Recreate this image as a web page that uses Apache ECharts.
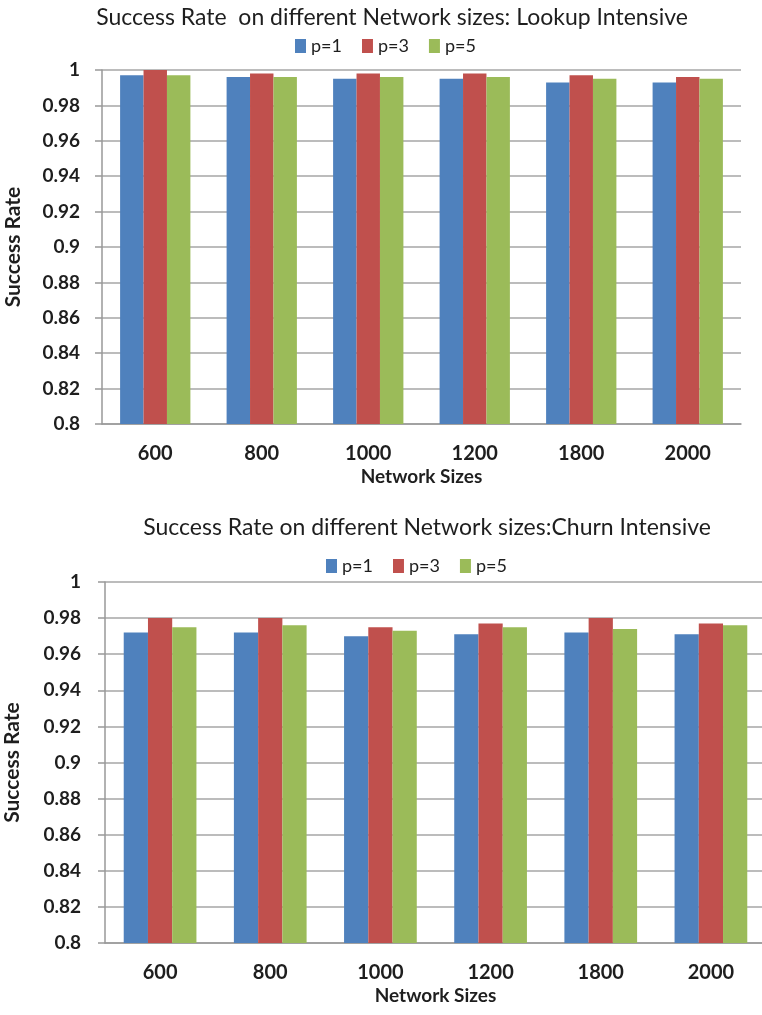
<!DOCTYPE html>
<html>
<head>
<meta charset="utf-8">
<script src="https://cdn.jsdelivr.net/npm/echarts@6/dist/echarts.min.js"></script>
<style>
  html, body { margin: 0; padding: 0; background: #fff; }
  #chart { width: 762px; height: 1015px; }
</style>
</head>
<body>
<div id="chart"></div>
<script>
// Network sizes on the x axis (shared by both panels)
const networkSizes = ['600', '800', '1000', '1200', '1800', '2000'];
const seriesNames = ['p=1', 'p=3', 'p=5'];
const seriesColors = ['#4F81BD', '#C0504D', '#9BBB59'];

// Lookup-intensive workload
const lookupP1 = [0.997, 0.996, 0.995, 0.995, 0.993, 0.993];
const lookupP3 = [1.000, 0.998, 0.998, 0.998, 0.997, 0.996];
const lookupP5 = [0.997, 0.996, 0.996, 0.996, 0.995, 0.995];

// Churn-intensive workload
const churnP1 = [0.972, 0.972, 0.970, 0.971, 0.972, 0.971];
const churnP3 = [0.980, 0.980, 0.975, 0.977, 0.980, 0.977];
const churnP5 = [0.975, 0.976, 0.973, 0.975, 0.974, 0.976];

const titleTop = 'Success Rate  on different Network sizes: Lookup Intensive';
const titleBottom = 'Success Rate on different Network sizes:Churn Intensive';
const yName = 'Success Rate';
const xName = 'Network Sizes';

const FONT = 'Lato, "Open Sans", sans-serif';
const gridGrey = '#A6A6A6';
const ink = '#1e1e1e';

function xAxis(gridIndex) {
  return {
    type: 'category', gridIndex, data: networkSizes,
    name: xName, nameLocation: 'middle', nameGap: 43,
    nameTextStyle: { fontFamily: FONT, fontWeight: 'bold', fontSize: 19, color: ink },
    axisLine: { lineStyle: { color: '#999', width: 1.5 } },
    axisTick: { length: 9, lineStyle: { color: '#999', width: 1.5 } },
    axisLabel: { fontFamily: FONT, fontWeight: 'bold', fontSize: 20, color: ink, margin: 20 }
  };
}

function yAxis(gridIndex, nameGap, labelMargin) {
  return {
    type: 'value', gridIndex, min: 0.8, max: 1, interval: 0.02,
    name: yName, nameLocation: 'middle', nameGap, nameRotate: 90,
    nameTextStyle: { fontFamily: FONT, fontWeight: 'bold', fontSize: 21, color: ink },
    axisLine: { show: true, lineStyle: { color: '#999', width: 1.5 } },
    axisTick: { show: true, length: 7, lineStyle: { color: '#999', width: 1.5 } },
    splitLine: { lineStyle: { color: gridGrey, width: 1.5 } },
    axisLabel: {
      fontFamily: FONT, fontWeight: 'bold', fontSize: 19, color: ink, margin: labelMargin,
      formatter: v => String(parseFloat(v.toFixed(2)))
    }
  };
}

function bars(values, idx, gridIndex) {
  return {
    type: 'bar', name: seriesNames[idx], data: values,
    xAxisIndex: gridIndex, yAxisIndex: gridIndex,
    itemStyle: { color: seriesColors[idx] },
    barGap: '0%', barCategoryGap: '34%'
  };
}

const legendCommon = {
  data: seriesNames, itemWidth: 11, itemHeight: 14, itemGap: 20, icon: 'rect',
  textStyle: { fontFamily: FONT, fontSize: 18, color: ink }
};

const chart = echarts.init(document.getElementById('chart'), null, { renderer: 'canvas' });
chart.setOption({
  animation: false,
  backgroundColor: '#fff',
  title: [
    { text: titleTop, left: 387, top: 1, textAlign: 'center',
      textStyle: { fontFamily: FONT, fontWeight: 'normal', fontSize: 23, color: ink } },
    { text: titleBottom, left: 422, top: 511, textAlign: 'center',
      textStyle: { fontFamily: FONT, fontWeight: 'normal', fontSize: 23, color: ink } }
  ],
  legend: [
    Object.assign({ left: 290, top: 32 }, legendCommon),
    Object.assign({ left: 321, top: 552 }, legendCommon)
  ],
  grid: [
    { left: 102, right: 21, top: 70, height: 354, outerBoundsMode: 'none' },
    { left: 105, right: -4, top: 582, height: 361, outerBoundsMode: 'none' }
  ],
  xAxis: [xAxis(0), xAxis(1)],
  yAxis: [yAxis(0, 78, 22), yAxis(1, 82, 24)],
  series: [
    bars(lookupP1, 0, 0), bars(lookupP3, 1, 0), bars(lookupP5, 2, 0),
    bars(churnP1, 0, 1), bars(churnP3, 1, 1), bars(churnP5, 2, 1)
  ]
});
</script>
</body>
</html>
